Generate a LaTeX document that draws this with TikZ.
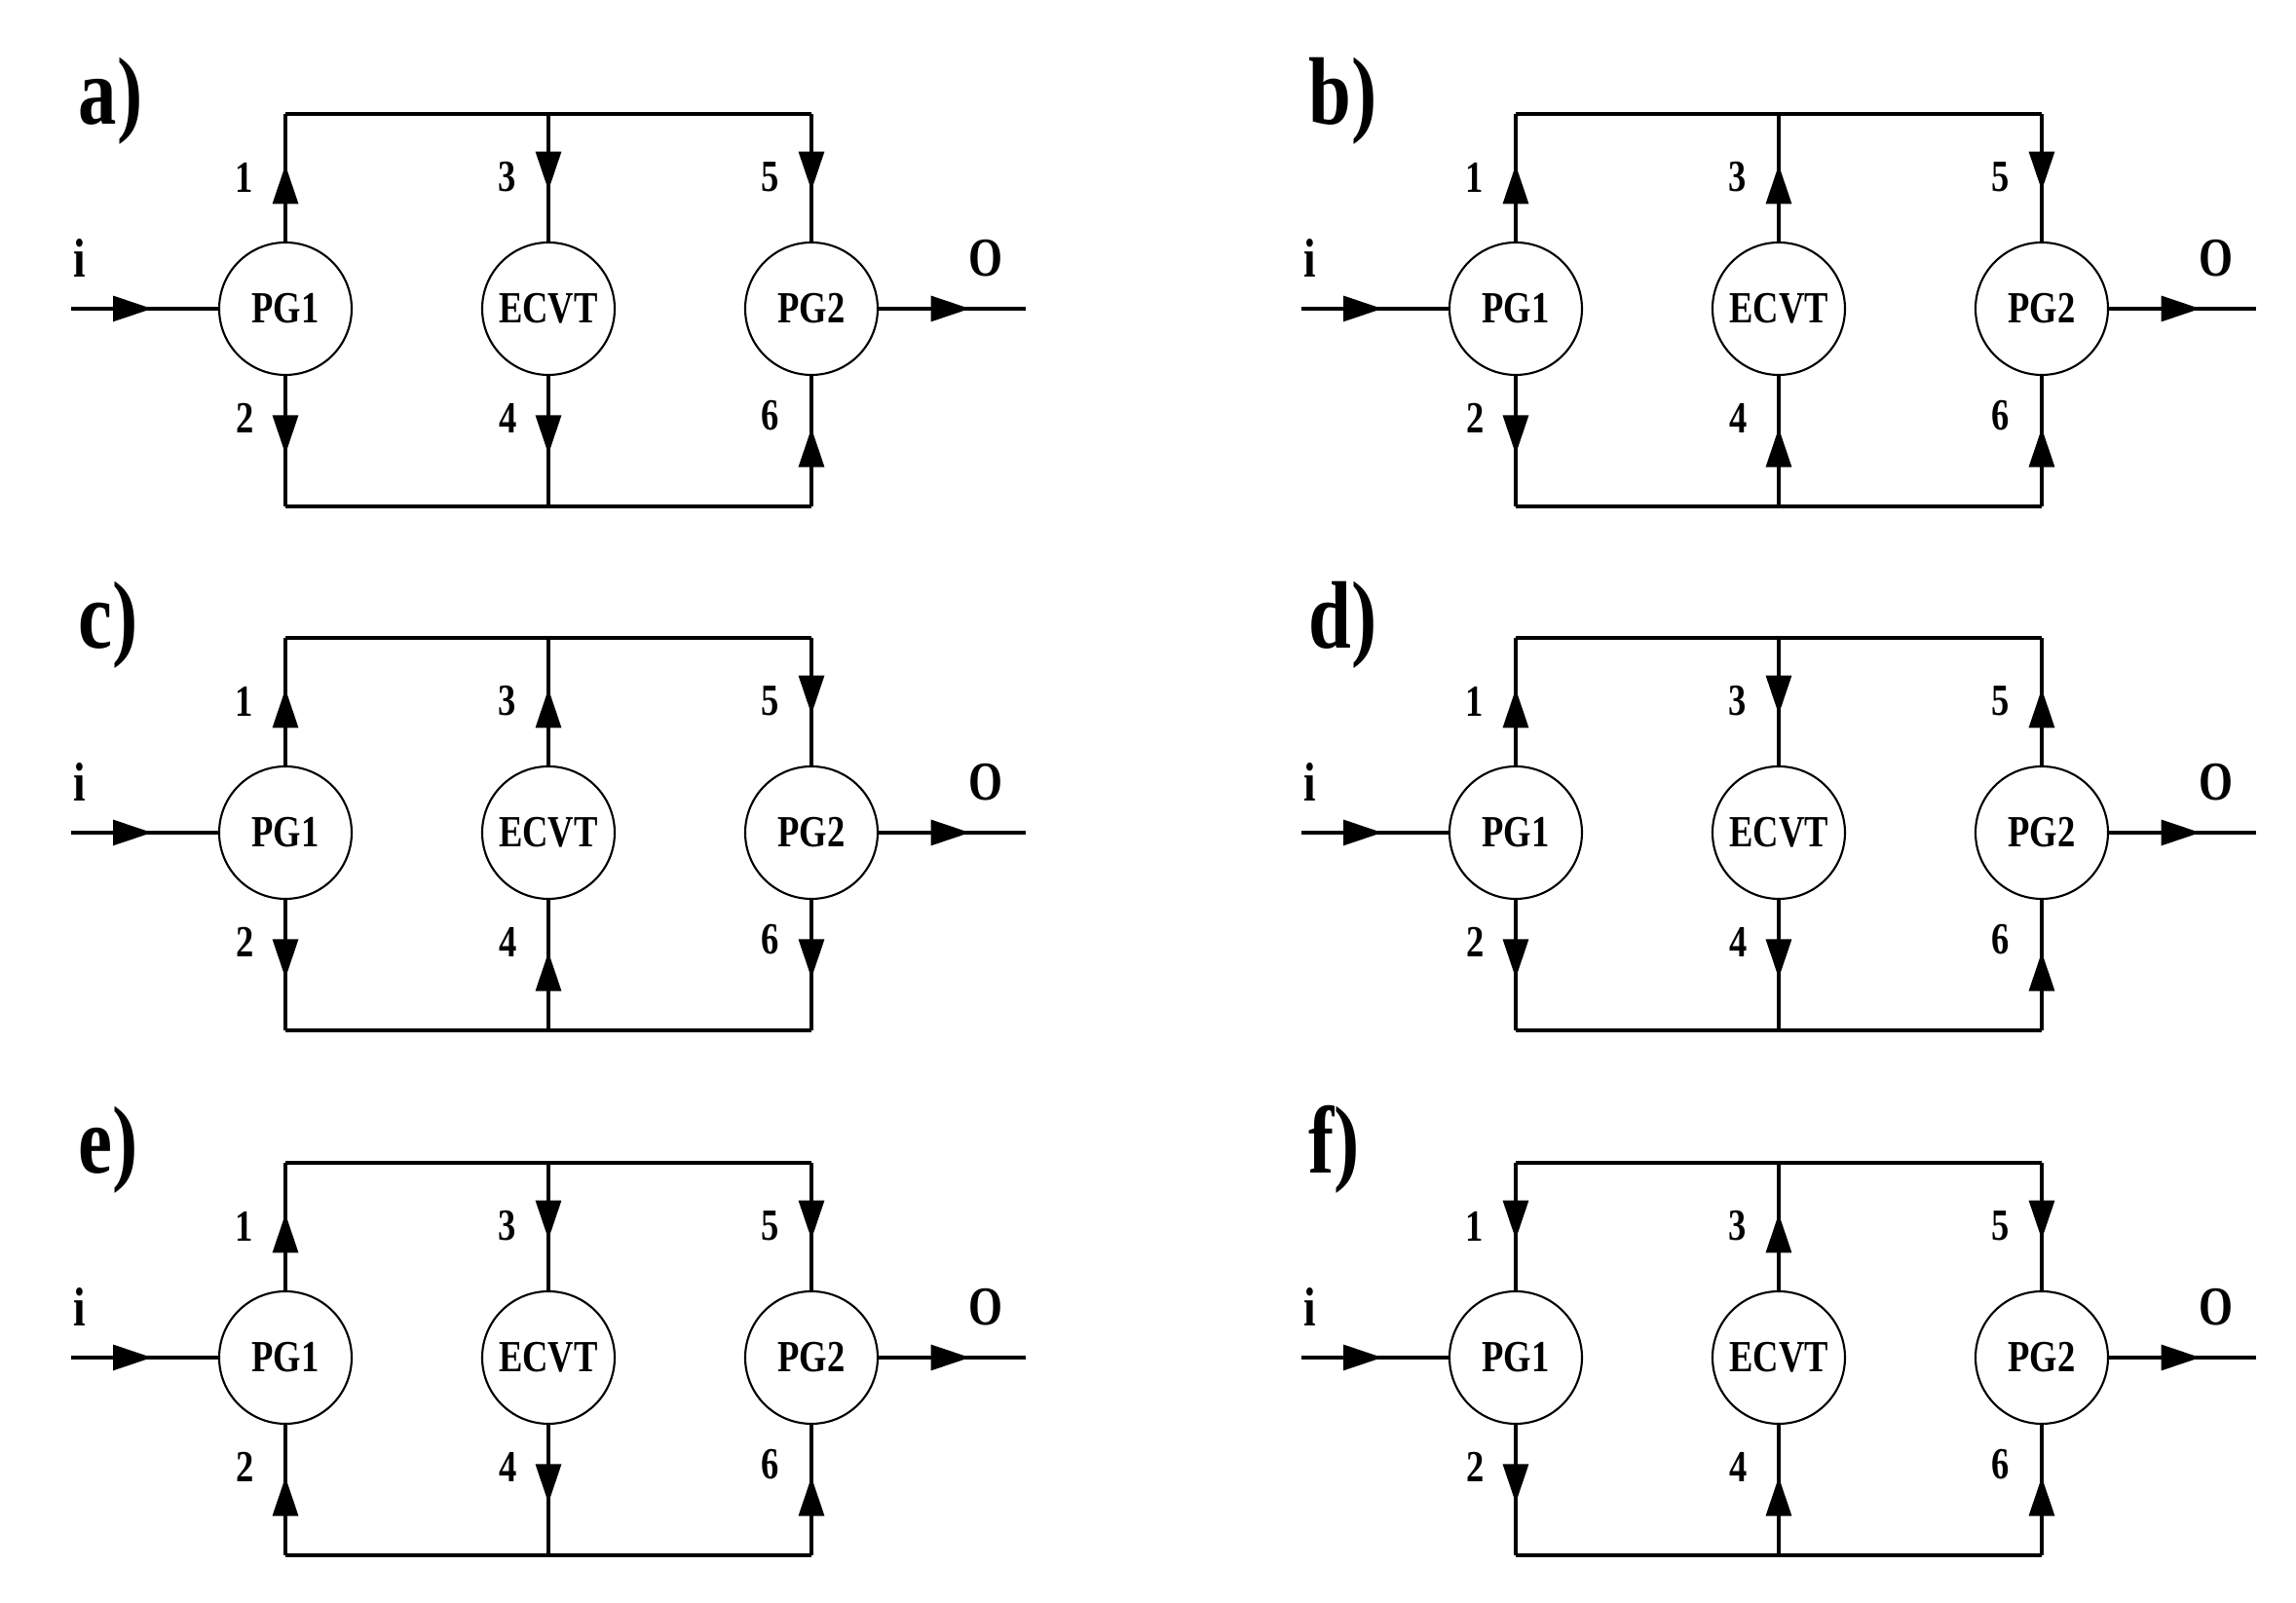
\documentclass[tikz,border=0pt]{standalone}
\usepackage{fontspec}
\setmainfont[FakeStretch=0.8]{Liberation Serif}
\usetikzlibrary{arrows.meta}
\usetikzlibrary{decorations.markings}

\tikzset{%%
  gear/.style={draw,circle,line width=0.6pt,minimum size=1.36cm,inner sep=0pt,font=\fontsize{13}{15}\selectfont\bfseries},%%
  bus/.style={line width=0.9pt},%%
  outflow/.style={bus,postaction={decorate},decoration={markings,mark=at position 0.6 with {\arrow{Triangle[length=4mm,width=2.6mm]}}}},%%
  inflow/.style={bus,postaction={decorate},decoration={markings,mark=at position 0.4 with {\arrowreversed{Triangle[length=4mm,width=2.6mm]}}}},%%
  shaft/.style={bus,postaction={decorate},decoration={markings,mark=at position #1 with {\arrow{Triangle[length=4mm,width=2.6mm]}}}},%%
  branch/.style={font=\fontsize{13}{15}\selectfont\bfseries},%%
  io/.style={font=\fontsize{16}{18}\selectfont\bfseries},%%
  tag/.style={anchor=base west,inner sep=0pt,font=\fontsize{28}{30}\selectfont\bfseries}%%
}

% #1 panel, #2 #3 centre of PG1, #4..#9 flow on branches 1..6
\newcommand{\modepanel}[9]{%%
  \begin{scope}[shift={(#2,#3)}]
    \node[tag] (tag#1) at (-2.13,1.89) {#1)}; %%
    \node[gear] (pg1#1) at (0,0) {PG1}; %%
    \node[gear] (ecvt#1) at (2.7,0) {ECVT}; %%
    \node[gear] (pg2#1) at (5.4,0) {PG2}; %%
    \coordinate (t1#1) at (0,2); %%
    \coordinate (t3#1) at (2.7,2); %%
    \coordinate (t5#1) at (5.4,2); %%
    \coordinate (b2#1) at (0,-2.03); %%
    \coordinate (b4#1) at (2.7,-2.03); %%
    \coordinate (b6#1) at (5.4,-2.03); %%
    \coordinate (in#1) at (-2.2,0); %%
    \coordinate (out#1) at (7.6,0); %%
    \node[io] (li#1) at (-2.11,0.52) {i}; %%
    \node[io] (lo#1) at (7.19,0.52) {O}; %%
    \node[branch] (n1#1) at (-0.42,1.35) {1}; %%
    \node[branch] (n3#1) at (2.28,1.35) {3}; %%
    \node[branch] (n5#1) at (4.98,1.35) {5}; %%
    \node[branch] (n2#1) at (-0.41,-1.12) {2}; %%
    \node[branch] (n4#1) at (2.29,-1.12) {4}; %%
    \node[branch] (n6#1) at (4.98,-1.10) {6}; %%
    \draw[bus] (t1#1)--(t5#1); %%
    \draw[bus] (b2#1)--(b6#1); %%
    \draw[#4] (pg1#1)--(t1#1); %%
    \draw[#5] (pg1#1)--(b2#1); %%
    \draw[#6] (ecvt#1)--(t3#1); %%
    \draw[#7] (ecvt#1)--(b4#1); %%
    \draw[#8] (pg2#1)--(t5#1); %%
    \draw[#9] (pg2#1)--(b6#1); %%
    \draw[shaft=0.55] (in#1)--(pg1#1); %%
    \draw[shaft=0.62] (pg2#1)--(out#1); %%
  \end{scope}}

\begin{document}
\begin{tikzpicture}%
  \useasboundingbox (0,0) rectangle (23.57,16.46); %%
  \modepanel{a}{2.93}{13.29}{outflow}{outflow}{inflow}{outflow}{inflow}{inflow} %%
  \modepanel{b}{15.56}{13.29}{outflow}{outflow}{outflow}{inflow}{inflow}{inflow} %%
  \modepanel{c}{2.93}{7.91}{outflow}{outflow}{outflow}{inflow}{inflow}{outflow} %%
  \modepanel{d}{15.56}{7.91}{outflow}{outflow}{inflow}{outflow}{outflow}{inflow} %%
  \modepanel{e}{2.93}{2.52}{outflow}{inflow}{inflow}{outflow}{inflow}{inflow} %%
  \modepanel{f}{15.56}{2.52}{inflow}{outflow}{outflow}{inflow}{inflow}{inflow} %%
\end{tikzpicture}
\end{document}
